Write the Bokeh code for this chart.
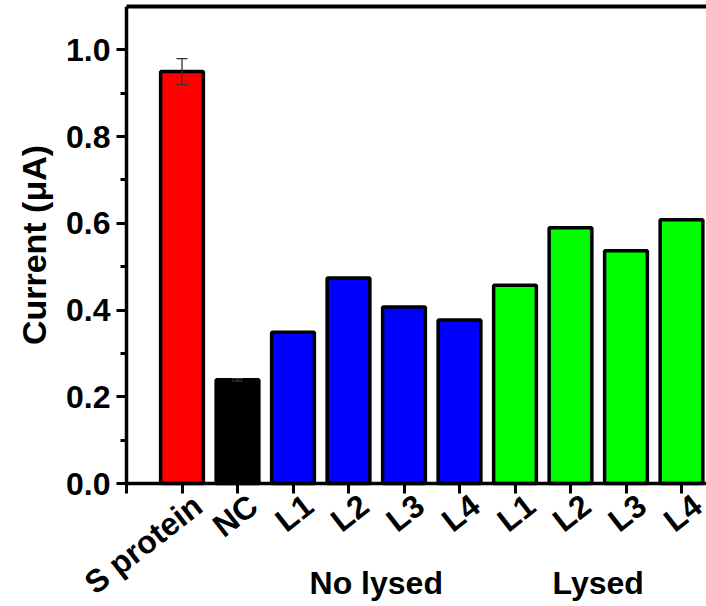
import math

from bokeh.core.properties import value
from bokeh.embed import file_html
from bokeh.models import (ColumnDataSource, FixedTicker, LinearAxis,
                          PrintfTickFormatter, Range1d, TeeHead, Whisker)
from bokeh.plotting import figure
from bokeh.resources import INLINE

# Sample names, their group and measured peak current (µA)
samples = ["S protein", "NC", "L1", "L2", "L3", "L4", "L1", "L2", "L3", "L4"]
groups = ["", "", "No lysed", "No lysed", "No lysed", "No lysed",
          "Lysed", "Lysed", "Lysed", "Lysed"]
current = [0.950, 0.239, 0.349, 0.474, 0.407, 0.377, 0.457, 0.590, 0.537, 0.608]
error = [0.030, 0.003, 0.0, 0.0, 0.0, 0.0, 0.0, 0.0, 0.0, 0.0]
colors = ["#FF0000", "#000000", "#0000FF", "#0000FF", "#0000FF", "#0000FF",
          "#00FF00", "#00FF00", "#00FF00", "#00FF00"]
y_ticks = [0.0, 0.2, 0.4, 0.6, 0.8, 1.0]
y_minor = [0.1, 0.3, 0.5, 0.7, 0.9]
group_names = ["No lysed", "Lysed"]

FONT = "Liberation Sans"
FS = "32px"

# screen layout: the frame fills the canvas below a thin top margin and the
# axes are pinned at data locations, so captions can sit anywhere around them
W, H = 706, 606
TOP = 6
AXIS_X_PX = 126          # screen column of the value axis
ZERO_PX = 483            # screen row of y = 0
CAT_PX = 55.5            # width of one category
Y_TOP = 1.1
px_per_unit = (ZERO_PX - TOP) / Y_TOP
y_bottom = -(H - ZERO_PX) / px_per_unit
x_start = -AXIS_X_PX / CAT_PX
x_end = (W - AXIS_X_PX) / CAT_PX

positions = list(range(1, len(samples) + 1))

p = figure(width=W, height=H, output_backend="svg", toolbar_location=None,
           x_range=Range1d(x_start, x_end), y_range=Range1d(y_bottom, Y_TOP),
           min_border_left=0, min_border_right=0, min_border_top=TOP,
           min_border_bottom=0, x_axis_location=None, y_axis_location=None)
p.outline_line_color = None
p.grid.visible = False
p.background_fill_color = "white"
p.border_fill_color = "white"

src = ColumnDataSource(dict(x=positions, top=current, color=colors))
p.vbar(x="x", top="top", width=0.77, bottom=0, source=src,
       fill_color="color", line_color="black", line_width=3.5)

# error bars (only where an error was measured)
ex = [x for x, e in zip(positions, error) if e > 0]
ev = [v for v, e in zip(current, error) if e > 0]
ee = [e for e in error if e > 0]
esrc = ColumnDataSource(dict(x=ex, upper=[v + e for v, e in zip(ev, ee)],
                             lower=[v - e for v, e in zip(ev, ee)]))
p.add_layout(Whisker(source=esrc, base="x", upper="upper", lower="lower",
                     level="overlay", line_color="#333333", line_width=1.3,
                     upper_head=TeeHead(size=11, line_color="#333333", line_width=1.3),
                     lower_head=TeeHead(size=11, line_color="#333333", line_width=1.3)))

# value axis pinned at x = 0
yax = LinearAxis(ticker=FixedTicker(ticks=y_ticks, minor_ticks=y_minor),
                 formatter=PrintfTickFormatter(format="%.1f"),
                 bounds=(0, Y_TOP), fixed_location=0)
yax.axis_label = "Current (μA)"
yax.axis_label_text_font = FONT
yax.axis_label_text_font_style = "bold"
yax.axis_label_text_font_size = "34px"
yax.axis_label_text_color = "black"
yax.axis_label_standoff = 10
yax.major_label_text_font = FONT
yax.major_label_text_font_style = "bold"
yax.major_label_text_font_size = FS
yax.major_label_text_color = "black"
yax.major_label_standoff = 6
yax.axis_line_width = 3.5
yax.major_tick_line_width = 3
yax.minor_tick_line_width = 3
yax.major_tick_in = 0
yax.major_tick_out = 10
yax.minor_tick_in = 0
yax.minor_tick_out = 6
p.add_layout(yax, "left")

# category axis pinned at y = 0; its captions are drawn as rotated text
tick_x = [0] + positions
xax = LinearAxis(ticker=FixedTicker(ticks=tick_x), bounds=(0, x_end),
                 fixed_location=0)
xax.major_label_overrides = {t: "" for t in tick_x}
xax.axis_line_width = 3.5
xax.major_tick_line_width = 3
xax.major_tick_in = 0
xax.major_tick_out = 10
xax.minor_tick_line_color = None
p.add_layout(xax, "below")

# top frame line
tax = LinearAxis(ticker=FixedTicker(ticks=[]), bounds=(0, x_end))
tax.axis_line_width = 4
tax.major_tick_line_color = None
tax.minor_tick_line_color = None
tax.major_label_text_font_size = "0px"
tax.major_label_standoff = 0
p.add_layout(tax, "above")

p.text(x=positions, y=[0] * len(positions), text=samples,
       angle=math.radians(38), x_offset=16, y_offset=18,
       text_align="right", text_baseline="alphabetic",
       text_font=value(FONT), text_font_style="bold", text_font_size=FS,
       text_color="black")

# group captions centred under their samples
gx = []
for name in group_names:
    xs = [x for x, g in zip(positions, groups) if g == name]
    gx.append(sum(xs) / len(xs))
p.text(x=gx, y=[0] * len(gx), text=group_names, y_offset=99,
       text_align="center", text_baseline="alphabetic",
       text_font=value(FONT), text_font_style="bold", text_font_size=FS,
       text_color="black")

open("out.html", "w").write(file_html(p, INLINE))
